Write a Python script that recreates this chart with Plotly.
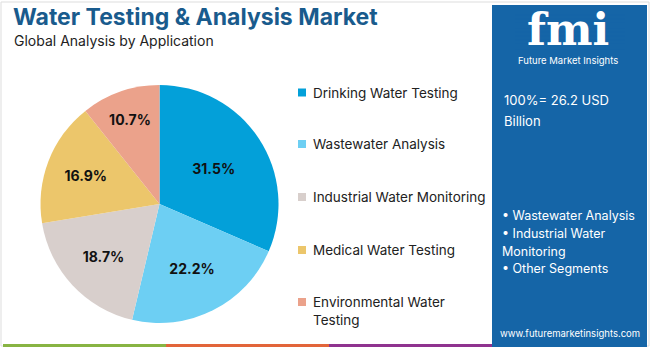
import plotly.graph_objects as go

# ---- data ----
categories = ["Drinking Water Testing", "Wastewater Analysis", "Industrial Water Monitoring",
              "Medical Water Testing", "Environmental Water<br>Testing"]
shares = [31.5, 22.2, 18.7, 16.9, 10.7]
colors = ["#03a0d9", "#6dcff3", "#d8cfcc", "#ecc66b", "#eba28b"]
title_text = "Water Testing & Analysis Market"
subtitle_text = "Global Analysis by Application"
total_lines = ["100%= 26.2 USD", "Billion"]
panel_bullets = ["• Wastewater Analysis", "• Industrial Water", "Monitoring", "• Other Segments"]
url_text = "www.futuremarketinsights.com"

W, H = 650, 347
FONT = "Inter"
PANEL = "#1565a7"

def px(x):
    return x / W

def py(y):
    return 1 - y / H

fig = go.Figure()

cx, cy, r = 159.5, 204, 119
fig.add_trace(go.Pie(
    labels=[c.replace("<br>", " ") for c in categories],
    values=shares,
    marker=dict(colors=colors, line=dict(width=0)),
    sort=False, direction="clockwise", rotation=0,
    texttemplate="%{value:.1f}%", textposition="inside",
    insidetextorientation="horizontal",
    textfont=dict(family=FONT, size=14, color="#111111", weight="bold"),
    domain=dict(x=[px(cx - r), px(cx + r)], y=[py(cy + r), py(cy - r)]),
    showlegend=False, hoverinfo="label+percent",
))

shapes = []
annotations = []

# outer border
shapes.append(dict(type="rect", xref="paper", yref="paper", x0=px(1), x1=px(649), y0=py(346), y1=py(2),
                   line=dict(color="#dddddd", width=1), fillcolor="rgba(0,0,0,0)", layer="below"))

# title and subtitle
annotations.append(dict(text=f"<b>{title_text}</b>", x=px(11), y=py(17), xref="paper", yref="paper",
                        xanchor="left", yanchor="middle", showarrow=False,
                        font=dict(family=FONT, size=23, color="#195b8d")))
annotations.append(dict(text=subtitle_text, x=px(12), y=py(40), xref="paper", yref="paper",
                        xanchor="left", yanchor="middle", showarrow=False,
                        font=dict(family=FONT, size=14, color="#222222")))

# legend
leg_y = [92.5, 144, 197, 250, 302]
for i, (lab, col) in enumerate(zip(categories, colors)):
    y = leg_y[i]
    shapes.append(dict(type="rect", xref="paper", yref="paper", x0=px(298), x1=px(306),
                       y0=py(y + 4), y1=py(y - 4), fillcolor=col, line=dict(width=0)))
    annotations.append(dict(text=lab, x=px(311), y=py(y - 10), xref="paper", yref="paper",
                            xanchor="left", yanchor="top", align="left", showarrow=False,
                            font=dict(family=FONT, size=13.5, color="#222222")))

# right panel
shapes.append(dict(type="rect", xref="paper", yref="paper", x0=px(492), x1=px(647), y0=py(347), y1=py(5),
                   fillcolor=PANEL, line=dict(width=0)))

# bottom colored strips
strips = [(3, 166, "#88b443"), (166, 329, "#e2653a"), (329, 492, "#8f338f")]
for x0, x1, c in strips:
    shapes.append(dict(type="rect", xref="paper", yref="paper", x0=px(x0), x1=px(x1), y0=py(347), y1=py(344),
                       fillcolor=c, line=dict(width=0)))

# logo
annotations.append(dict(text="<b>fmi</b>", x=px(568), y=py(29), xref="paper", yref="paper",
                        xanchor="center", yanchor="middle", showarrow=False,
                        font=dict(family="DejaVu Serif", size=44, color="white")))
for k in range(9):
    yy = 15 + k * 4.2
    shapes.append(dict(type="line", xref="paper", yref="paper", x0=px(515), x1=px(625),
                       y0=py(yy), y1=py(yy), line=dict(color=PANEL, width=1.2)))
annotations.append(dict(text="Future Market Insights", x=px(568), y=py(61), xref="paper", yref="paper",
                        xanchor="center", yanchor="middle", showarrow=False,
                        font=dict(family=FONT, size=9.5, color="white")))

for line, y in zip(total_lines, [100, 121]):
    annotations.append(dict(text=line, x=px(502), y=py(y), xref="paper", yref="paper",
                            xanchor="left", yanchor="middle", align="left", showarrow=False,
                            font=dict(family=FONT, size=13, color="white")))
for line, y in zip(panel_bullets, [215, 233, 251, 268]):
    annotations.append(dict(text=line, x=px(500), y=py(y), xref="paper", yref="paper",
                            xanchor="left", yanchor="middle", align="left", showarrow=False,
                            font=dict(family=FONT, size=12.5, color="white")))
annotations.append(dict(text=url_text, x=px(570), y=py(333), xref="paper", yref="paper",
                        xanchor="center", yanchor="middle", showarrow=False,
                        font=dict(family=FONT, size=9.5, color="white")))

fig.update_layout(width=W, height=H, margin=dict(l=0, r=0, t=0, b=0),
                  paper_bgcolor="white", plot_bgcolor="white",
                  shapes=shapes, annotations=annotations)

fig.write_html("out.html")
